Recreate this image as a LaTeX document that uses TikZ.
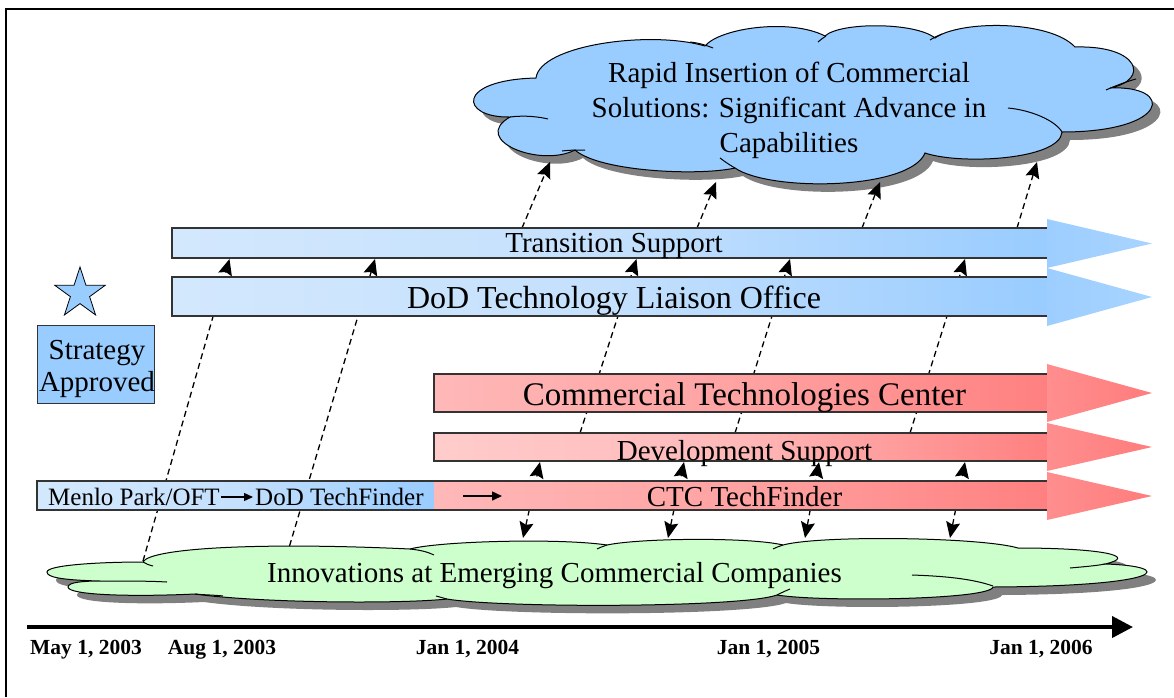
\documentclass[tikz,border=0pt]{standalone}
\usepackage{fontspec}
\setmainfont{Liberation Serif}
\usetikzlibrary{arrows.meta,shapes.geometric}

\definecolor{skyblue}{HTML}{99CCFF}
\definecolor{palebar}{HTML}{D3E8FD}
\definecolor{midbar}{HTML}{C4E0FD}
\definecolor{headblue}{HTML}{9DCEFF}
\definecolor{headblue2}{HTML}{A8D4FF}
\definecolor{rosebar}{HTML}{FFB8B8}
\definecolor{midrose}{HTML}{FFA2A2}
\definecolor{palerose}{HTML}{FFCCCC}
\definecolor{redbar}{HTML}{FF8080}
\definecolor{headred}{HTML}{FF8E8E}
\definecolor{headred2}{HTML}{FF7C7C}
\definecolor{mint}{HTML}{CCFFCC}
\definecolor{shadowgray}{HTML}{808080}
\definecolor{edge}{HTML}{333333}

\tikzset{
  % outline of the upper cloud
  uppercloud/.style={insert path={
    (536,78) .. controls (540,45) and (650,30) .. (705,46)
    .. controls (720,28) and (790,18) .. (825,36)
    .. controls (840,22) and (915,22) .. (935,38)
    .. controls (960,20) and (1050,20) .. (1075,47)
    .. controls (1140,45) and (1150,80) .. (1110,88)
    .. controls (1175,85) and (1170,132) .. (1062,132)
    .. controls (1060,160) and (960,165) .. (925,153)
    .. controls (910,190) and (770,192) .. (735,168)
    .. controls (700,176) and (600,172) .. (575,150)
    .. controls (540,168) and (470,140) .. (510,117)
    .. controls (460,118) and (455,80) .. (536,78) -- cycle}},
  % outline of the lower cloud
  lowercloud/.style={insert path={
    (143,562) .. controls (150,548) and (260,542) .. (410,549)
    .. controls (440,541) and (560,538) .. (607,545)
    .. controls (640,538) and (750,537) .. (783,545)
    .. controls (820,535) and (980,537) .. (1018,548)
    .. controls (1100,548) and (1140,556) .. (1105,564)
    .. controls (1175,566) and (1170,586) .. (993,587)
    .. controls (990,600) and (820,602) .. (777,595)
    .. controls (740,608) and (500,608) .. (447,599)
    .. controls (400,604) and (260,603) .. (195,594)
    .. controls (130,597) and (68,595) .. (68,587)
    .. controls (68,582) and (85,581) .. (100,581)
    .. controls (60,580) and (47,577) .. (47,572)
    .. controls (47,565) and (100,562) .. (143,562) -- cycle}},
  cloudedge/.style={draw=black, line width=1pt},
  innerarc/.style={draw=black, line width=1pt},
  bar/.style={rectangle, inner sep=0pt, outer sep=0pt},
  bluebar/.style={bar, left color=palebar, right color=skyblue, middle color=midbar},
  edgeline/.style={draw=edge, line width=1.2pt},
  bigtxt/.style={font=\fontsize{29}{35}\selectfont, inner sep=0pt},
  datetxt/.style={font=\fontsize{21.5}{26}\selectfont\bfseries, inner sep=0pt, anchor=base},
  link/.style={draw, line width=1.3pt, dash pattern=on 6pt off 4pt,
    -{Stealth[length=16pt,width=14pt,inset=2.5pt]}},
  bothways/.style={link, {Stealth[length=16pt,width=14pt,inset=2.5pt]}-{Stealth[length=16pt,width=14pt,inset=2.5pt]}},
  textarrow/.style={draw, line width=1.5pt, -{Triangle[length=10pt,width=9pt]}}
}

\begin{document}
\begin{tikzpicture}[x=1pt,y=-1pt]
\useasboundingbox (0,0) rectangle (1174,697);

% outer frame
\draw[line width=2pt] (6,697) -- (6,9) -- (1174,9);

% upper cloud with its shadow
\fill[shadowgray, shift={(8,8)}, uppercloud];
\path[fill=skyblue, cloudedge, uppercloud];
\draw[innerarc] (510,117) .. controls (525,115) and (540,117) .. (548,119);
\draw[innerarc] (562,151) .. controls (570,150) and (578,150) .. (585,150);
\draw[innerarc] (690,42) .. controls (700,43) and (708,46) .. (713,48);
\draw[innerarc] (818,42) .. controls (820,40) and (823,38) .. (826,36);
\draw[innerarc] (930,40) .. controls (933,38) and (937,36) .. (942,34);
\draw[innerarc] (1106,90) .. controls (1115,86) and (1125,82) .. (1136,79);
\draw[innerarc] (1008,108) .. controls (1030,110) and (1055,120) .. (1062,132);
\draw[innerarc] (735,168) .. controls (728,164) and (724,161) .. (720,158);
\node[bigtxt, align=center] (rapid) at (789,110.3)
  {Rapid Insertion of Commercial\\Solutions: Significant Advance in\\Capabilities};

% lower cloud with its shadow
\fill[shadowgray, shift={(9,8)}, lowercloud];
\path[fill=mint, cloudedge, lowercloud];
\draw[innerarc] (100,581) .. controls (130,581) and (150,581) .. (167,582);
\draw[innerarc] (195,594) .. controls (205,595) and (215,595) .. (223,596);
\draw[innerarc] (143,562) .. controls (146,564) and (149,565) .. (153,566);
\draw[innerarc] (410,549) .. controls (420,550) and (428,552) .. (434,555);
\draw[innerarc] (607,545) .. controls (604,546) and (601,547) .. (597,549);
\draw[innerarc] (783,545) .. controls (780,546) and (777,547) .. (773,549);
\draw[innerarc] (1105,564) .. controls (1095,566) and (1080,567) .. (1070,568);
\draw[innerarc] (993,586) .. controls (970,578) and (940,576) .. (912,575);
\draw[innerarc] (777,595) .. controls (781,593) and (785,591) .. (790,589);
\draw[innerarc] (447,599) .. controls (443,598) and (440,597) .. (436,596);
\node[bigtxt, anchor=base] (innov) at (554.5,582)
  {Innovations at Emerging Commercial Companies};

% connector end points
\coordinate (g1) at (143,561);   \coordinate (t1) at (229.5,259);
\coordinate (g2) at (289.5,546); \coordinate (t2) at (375,259);
\coordinate (d3) at (580,433);   \coordinate (t3) at (636.5,259);
\coordinate (d4) at (735,433);   \coordinate (t4) at (790,259);
\coordinate (d5) at (910,433);   \coordinate (t5) at (965,259);
\coordinate (u1) at (522,228);   \coordinate (c1) at (550,162);
\coordinate (u2) at (697,228);   \coordinate (c2) at (716,182);
\coordinate (u3) at (862,228);   \coordinate (c3) at (880,182);
\coordinate (u4) at (1017,228);  \coordinate (c4) at (1037,162);
\coordinate (k1) at (523,538);   \coordinate (v1) at (540,462);
\coordinate (k2) at (668,538);   \coordinate (v2) at (684,462);
\coordinate (k3) at (805,538);   \coordinate (v3) at (819,462);
\coordinate (k4) at (950,538);   \coordinate (v4) at (965,462);

% dashed links running behind the bars
\draw[link] (g1) -- (t1);
\draw[link] (g2) -- (t2);
\draw[link] (d3) -- (t3);
\draw[link] (d4) -- (t4);
\draw[link] (d5) -- (t5);
\draw[bothways] (k1) -- (v1);
\draw[bothways] (k2) -- (v2);
\draw[bothways] (k3) -- (v3);
\draw[bothways] (k4) -- (v4);
\draw[link] (u1) -- (c1);
\draw[link] (u2) -- (c2);
\draw[link] (u3) -- (c3);
\draw[link] (u4) -- (c4);

% Transition Support
\node[bluebar, minimum width=875pt, minimum height=30pt] (trans) at (609.5,243) {};
\draw[edgeline] (trans.north east) -- (trans.north west) -- (trans.south west) -- (trans.south east);
\shade[left color=headblue, right color=headblue2] (1047,219) -- (1152,243.5) -- (1047,268) -- cycle;
\node[bigtxt, anchor=base] (transtxt) at (614,252) {Transition Support};

% DoD Technology Liaison Office
\node[bluebar, minimum width=875pt, minimum height=39pt] (dod) at (609.5,296.5) {};
\draw[edgeline] (dod.north east) -- (dod.north west) -- (dod.south west) -- (dod.south east);
\shade[left color=headblue, right color=headblue2] (1047,268) -- (1152,297) -- (1047,326) -- cycle;
\node[bigtxt, anchor=base, font=\fontsize{32}{38}\selectfont] (dodtxt) at (614,308)
  {DoD Technology Liaison Office};

% Commercial Technologies Center
\node[bar, minimum width=613pt, minimum height=38pt, left color=rosebar, right color=redbar, middle color=midrose] (ctc) at (740.5,393) {};
\draw[edgeline] (ctc.north east) -- (ctc.north west) -- (ctc.south west) -- (ctc.south east);
\shade[left color=headred, right color=headred2] (1047,364) -- (1152,393) -- (1047,422) -- cycle;
\node[bigtxt, anchor=base, font=\fontsize{33}{40}\selectfont] (ctctxt) at (744.5,405)
  {Commercial Technologies Center};

% Development Support
\node[bar, minimum width=613pt, minimum height=28pt, left color=palerose, right color=redbar, middle color=rosebar] (dev) at (740.5,447) {};
\draw[edgeline] (dev.north east) -- (dev.north west) -- (dev.south west) -- (dev.south east);
\shade[left color=headred, right color=headred2] (1047,423) -- (1152,447) -- (1047,471) -- cycle;
\node[bigtxt, anchor=base] (devtxt) at (744.5,460) {Development Support};

% Menlo Park / DoD TechFinder leading into CTC TechFinder
\node[bluebar, minimum width=397pt, minimum height=29pt] (menlo) at (235.5,495.5) {};
\node[bar, minimum width=613pt, minimum height=29pt, left color=rosebar, right color=redbar, middle color=midrose] (finder) at (740.5,495.5) {};
\draw[edgeline] (finder.north east) -- (menlo.north west) -- (menlo.south west) -- (finder.south east);
\shade[left color=headred, right color=headred2] (1047,472) -- (1152,496) -- (1047,520) -- cycle;
\node[inner sep=0pt, anchor=base west, font=\fontsize{25}{30}\selectfont] (menlotxt) at (48,505) {Menlo Park/OFT};
\node[inner sep=0pt, anchor=base west, font=\fontsize{25}{30}\selectfont] (dodfinder) at (255,505) {DoD TechFinder};
\coordinate (ma) at (221,497); \coordinate (mb) at (253,497);
\draw[textarrow, line width=1.3pt, -{Triangle[length=9pt,width=8pt]}] (ma) -- (mb);
\coordinate (fa) at (463,496); \coordinate (fb) at (502,496);
\draw[textarrow] (fa) -- (fb);
\node[bigtxt, anchor=base] (findertxt) at (744.5,506) {CTC TechFinder};

% milestone marker
\node[star, star points=5, star point ratio=2.618, minimum size=53pt, inner sep=0pt,
      fill=skyblue, draw=black, line width=0.8pt] (star) at (80,293.5) {};
\node[rectangle, minimum width=117pt, minimum height=78pt, inner sep=0pt,
      fill=skyblue, draw=edge, line width=1pt] (approved) at (95.5,364) {};
\node[bigtxt, align=center, font=\fontsize{29}{32}\selectfont] (approvedtxt) at (97,369.3)
  {Strategy\\Approved};

% time axis
\coordinate (axs) at (27,627); \coordinate (axe) at (1133,627);
\draw[line width=4pt, -{Triangle[length=21pt,width=21pt]}] (axs) -- (axe);
\node[datetxt] (may03) at (86,654) {May 1, 2003};
\node[datetxt] (aug03) at (222,654) {Aug 1, 2003};
\node[datetxt] (jan04) at (467.5,654) {Jan 1, 2004};
\node[datetxt] (jan05) at (768.5,654) {Jan 1, 2005};
\node[datetxt] (jan06) at (1041,654) {Jan 1, 2006};
\end{tikzpicture}
\end{document}
